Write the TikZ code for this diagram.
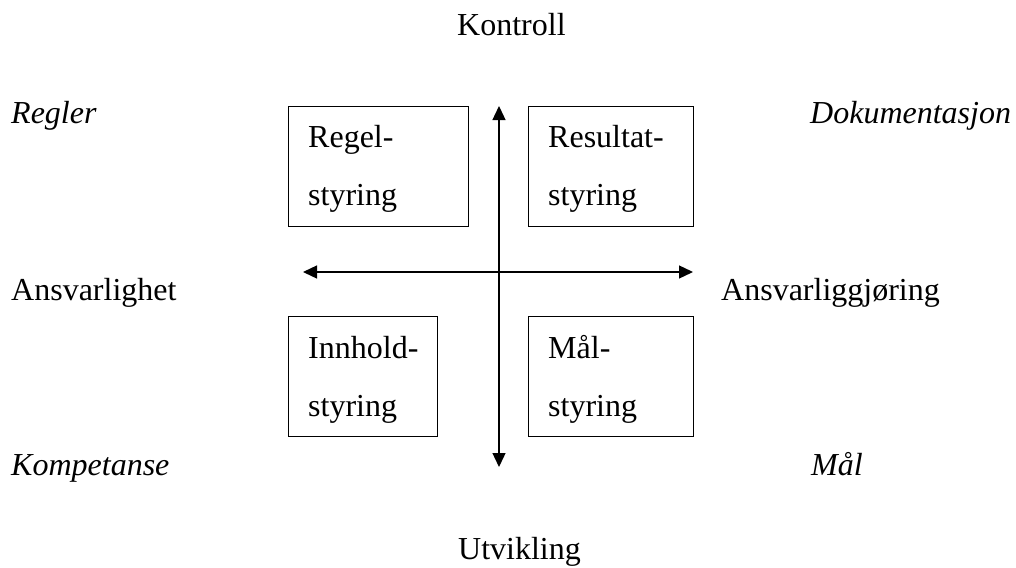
\documentclass[tikz,border=0pt]{standalone}
\usepackage{fontspec}
\setmainfont{Liberation Serif}
\usetikzlibrary{arrows.meta}
\begin{document}
\begin{tikzpicture}[x=1pt,y=-1pt,
  box/.style={draw,line width=1.4pt,rectangle,inner sep=0pt,minimum height=120pt},
  lbl/.style={anchor=base west,inner sep=0pt,font=\fontsize{32}{38}\selectfont},
  ilbl/.style={lbl,font=\fontsize{32}{38}\selectfont\itshape},
  axis/.style={line width=1.3pt,{Triangle[length=14pt,width=13pt]}-{Triangle[length=14pt,width=13pt]}}]
\useasboundingbox (0,0) rectangle (1016,567);
% boxes
\node[box,minimum width=180pt] (rs) at (378.5,166.5) {};
\node[box,minimum width=165pt] (res) at (611,166.5) {};
\node[box,minimum width=149pt] (is) at (363,376.5) {};
\node[box,minimum width=165pt] (ms) at (611,376.5) {};
% box texts
\node[lbl] (rs1) at (308,147) {Regel-};
\node[lbl] (rs2) at (308,205) {styring};
\node[lbl] (res1) at (548,147) {Resultat-};
\node[lbl] (res2) at (548,205) {styring};
\node[lbl] (is1) at (308,358) {Innhold-};
\node[lbl] (is2) at (308,416) {styring};
\node[lbl] (ms1) at (548,358) {Mål-};
\node[lbl] (ms2) at (548,416) {styring};
% axes
\coordinate (top) at (499,106);
\coordinate (bot) at (499,467);
\coordinate (lft) at (303,272);
\coordinate (rgt) at (693,272);
\draw[axis] (top) -- (bot);
\draw[axis] (lft) -- (rgt);
% outer labels
\node[lbl] (kontroll) at (457,36) {Kontroll};
\node[lbl] (utvikling) at (458,559) {Utvikling};
\node[lbl] (ansv) at (11,300) {Ansvarlighet};
\node[lbl] (ansvg) at (721,300) {Ansvarliggjøring};
\node[ilbl] (regler) at (11,124) {Regler};
\node[ilbl] (dok) at (810,124) {Dokumentasjon};
\node[ilbl] (komp) at (11,475) {Kompetanse};
\node[ilbl] (maal) at (811,475) {Mål};
\end{tikzpicture}
\end{document}
